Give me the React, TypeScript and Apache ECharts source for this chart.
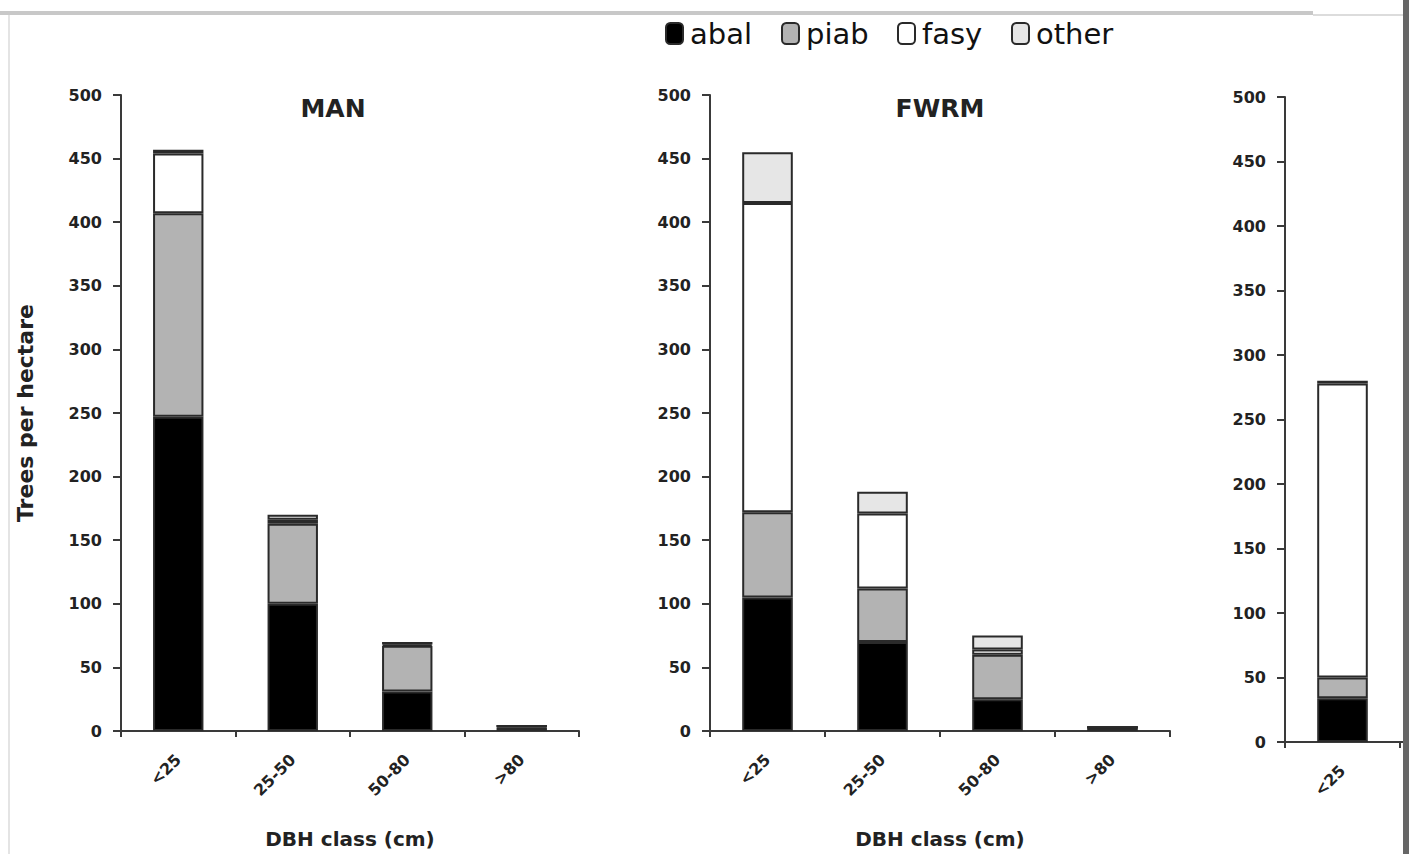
import React, { useEffect, useRef } from "react";
import * as echarts from "echarts";

const categories = ["<25", "25-50", "50-80", ">80"];
const speciesNames = ["abal", "piab", "fasy", "other"];
const speciesColors = ["#000000", "#b3b3b3", "#ffffff", "#e6e6e6"];

const manAbal = [247, 100, 31, 3];
const manPiab = [160, 63, 36, 1];
const manFasy = [47, 3, 1, 0];
const manOther = [3, 4, 2, 0];

const fwrmAbal = [105, 70, 25, 3];
const fwrmPiab = [67, 42, 35, 0];
const fwrmFasy = [243, 59, 4, 0];
const fwrmOther = [40, 17, 11, 0];

const thirdAbal = [34, null, null, null];
const thirdPiab = [16, null, null, null];
const thirdFasy = [228, null, null, null];
const thirdOther = [2, null, null, null];

const yTicks = [0, 500, 50];

const FONT = '"DejaVu Sans", "Open Sans", sans-serif';

export default function App() {
  const ref = useRef<HTMLDivElement>(null);
  useEffect(() => {
    if (!ref.current) return;
    const chart = echarts.init(ref.current, undefined, { renderer: "svg" });
    const panels = [
      { data: [manAbal, manPiab, manFasy, manOther], stack: "man" },
      { data: [fwrmAbal, fwrmPiab, fwrmFasy, fwrmOther], stack: "fwrm" },
      { data: [thirdAbal, thirdPiab, thirdFasy, thirdOther], stack: "third" },
    ];
    const grids = [
      { left: 121, top: 95, width: 458, height: 638 },
      { left: 710, top: 95, width: 460, height: 645 },
      { left: 1285, top: 97, width: 460, height: 645 },
    ];
    const axisLine = { show: true, lineStyle: { color: "#3a3a3a", width: 2 } };
    const xAxes = grids.map((g, i) => ({
      type: "category",
      gridIndex: i,
      data: categories,
      axisLine,
      axisTick: { show: true, interval: 0, length: 6, lineStyle: { color: "#3a3a3a", width: 2 } },
      axisLabel: {
        rotate: 45,
        margin: 26,
        fontSize: 16,
        fontWeight: "bold",
        color: "#222",
        fontFamily: FONT,
        interval: i === 2 ? (idx: number) => idx === 0 : 0,
      },
      name: i < 2 ? "DBH class (cm)" : "",
      nameLocation: "middle",
      nameGap: 98,
      nameTextStyle: { fontSize: 20, fontWeight: "bold", color: "#222", fontFamily: FONT },
    }));
    const yAxes = grids.map((g, i) => ({
      type: "value",
      gridIndex: i,
      min: yTicks[0],
      max: yTicks[1],
      interval: yTicks[2],
      axisLine,
      axisTick: { show: true, length: 8, lineStyle: { color: "#3a3a3a", width: 2 } },
      splitLine: { show: false },
      axisLabel: { fontSize: 16, fontWeight: "bold", color: "#222", margin: 19, fontFamily: FONT },
      name: i === 0 ? "Trees per hectare" : "",
      nameLocation: "middle",
      nameRotate: 90,
      nameGap: 85,
      nameTextStyle: { fontSize: 22, fontWeight: "bold", color: "#222", fontFamily: FONT },
    }));
    const series: any[] = [];
    panels.forEach((p, pi) => {
      p.data.forEach((vals, si) => {
        series.push({
          type: "bar",
          name: speciesNames[si],
          xAxisIndex: pi,
          yAxisIndex: pi,
          stack: p.stack,
          barWidth: "44%",
          data: vals,
          itemStyle: {
            color: speciesColors[si],
            borderColor: "#2a2a2a",
            borderWidth: 2,
          },
        });
      });
    });
    const legendLefts = [665, 781, 897, 1011];
    const legends = speciesNames.map((n, i) => ({
      data: [n],
      left: legendLefts[i],
      top: 19,
      padding: 0,
      itemWidth: 17,
      itemHeight: 21,
      itemGap: 0,
      icon: "roundRect",
      textStyle: { fontSize: 29, color: "#111", fontFamily: FONT, padding: [0, 0, 0, 2] },
    }));
    chart.setOption({
      animation: false,
      backgroundColor: "#ffffff",
      textStyle: { fontFamily: FONT },
      legend: legends,
      grid: grids,
      xAxis: xAxes,
      yAxis: yAxes,
      series,
      graphic: [
        {
          type: "text",
          x: 333,
          y: 108,
          z: 50,
          style: {
            text: "MAN",
            align: "center",
            verticalAlign: "middle",
            fontSize: 25,
            fontWeight: "bold",
            fontFamily: FONT,
            fill: "#222",
          },
        },
        {
          type: "text",
          x: 940,
          y: 108,
          z: 50,
          style: {
            text: "FWRM",
            align: "center",
            verticalAlign: "middle",
            fontSize: 25,
            fontWeight: "bold",
            fontFamily: FONT,
            fill: "#222",
          },
        },
        { type: "rect", z: 100, shape: { x: 0, y: 11, width: 1313, height: 4 }, style: { fill: "#c8c8c8" } },
        { type: "line", z: 100, shape: { x1: 1313, y1: 15, x2: 1403, y2: 15 }, style: { stroke: "#dcdcdc", lineWidth: 2 } },
        { type: "line", z: 100, shape: { x1: 9, y1: 15, x2: 9, y2: 854 }, style: { stroke: "#e4e4e4", lineWidth: 2 } },
        { type: "rect", z: 100, shape: { x: 1403, y: 0, width: 6, height: 854 }, style: { fill: "#666" } },
      ],
    });
    return () => chart.dispose();
  }, []);
  return (
    <div
      style={{
        position: "absolute",
        left: 0,
        top: 0,
        width: 1409,
        height: 854,
        overflow: "hidden",
        background: "#fff",
      }}
    >
      <div ref={ref} style={{ width: 1800, height: 854 }} />
    </div>
  );
}
